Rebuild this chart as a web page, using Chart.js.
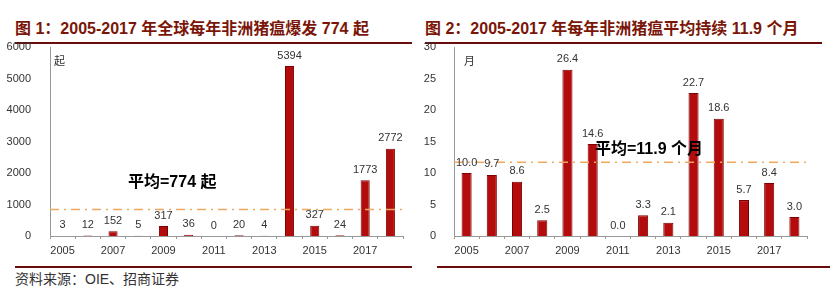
<!DOCTYPE html>
<html>
<head>
<meta charset="utf-8">
<script src="https://cdn.jsdelivr.net/npm/chart.js@4"></script>
<style>
  body { margin: 0; background: #fff; width: 830px; height: 294px; position: relative; overflow: hidden;
         font-family: "Liberation Sans", "Noto Sans CJK SC", sans-serif; }
  .title { position: absolute; top: 15px; font-size: 16px; font-weight: bold; color: #7a1608; white-space: nowrap;
           font-family: "Liberation Sans", "Noto Sans CJK SC", sans-serif; }
  .rule { position: absolute; height: 2px; background: #6a0c0c; }
  .src { position: absolute; left: 15px; top: 268px; font-size: 14px; color: #333;
         font-family: "Liberation Sans", "Noto Sans CJK SC", sans-serif; }
  canvas { position: absolute; }
</style>
</head>
<body>
<div class="title" style="left:15px">图 1：2005-2017 年全球每年非洲猪瘟爆发 774 起</div>
<div class="rule" style="left:15px; width:397px; top:42px"></div>
<div class="title" style="left:425px">图 2：2005-2017 年每年非洲猪瘟平均持续 11.9 个月</div>
<div class="rule" style="left:425px; width:397px; top:42px"></div>

<div style="position:absolute; left:0; top:40px; width:415px; height:222px"><canvas id="c1"></canvas></div>
<div style="position:absolute; left:415px; top:40px; width:415px; height:222px"><canvas id="c2"></canvas></div>

<div class="rule" style="left:15px; width:397px; top:266px"></div>
<div class="rule" style="left:437px; width:393px; top:266px"></div>
<div class="src">资料来源：OIE、招商证券</div>

<script>
const years = ['2005', '2006', '2007', '2008', '2009', '2010', '2011', '2012', '2013', '2014', '2015', '2016', '2017', '2018'];
const outbreaks = [3, 12, 152, 5, 317, 36, 0, 20, 4, 5394, 327, 24, 1773, 2772];
const durationMonths = [10.0, 9.7, 8.6, 2.5, 26.4, 14.6, 0.0, 3.3, 2.1, 22.7, 18.6, 5.7, 8.4, 3.0];
const outbreakAvgLine = 840;   // where the dashed line sits in the picture
const durationAvgLine = 11.7;
const outbreakTicks = [0, 1000, 2000, 3000, 4000, 5000, 6000];
const durationTicks = [0, 5, 10, 15, 20, 25, 30];

const barRed = '#b40c0c';
const font = '"Liberation Sans", "Noto Sans CJK SC", sans-serif';

// value labels, average line, unit and average text
const extras = {
  id: 'extras',
  afterDatasetsDraw(chart, args, opts) {
    const c = chart.ctx, area = chart.chartArea, y = chart.scales.y;
    c.save();
    // average line
    const ly = y.getPixelForValue(opts.avg);
    c.strokeStyle = '#f0a860';
    c.lineWidth = 1.5;
    c.setLineDash([9, 5, 2, 5]);
    c.beginPath();
    c.moveTo(area.left, ly);
    c.lineTo(area.right, ly);
    c.stroke();
    c.setLineDash([]);
    // values
    c.fillStyle = '#333';
    c.font = '11px ' + font;
    c.textAlign = 'center';
    c.textBaseline = 'bottom';
    chart.getDatasetMeta(0).data.forEach((bar, i) => {
      const v = chart.data.datasets[0].data[i];
      c.fillText(opts.decimals ? v.toFixed(opts.decimals) : String(v), bar.x, bar.y - 5);
    });
    // unit
    c.textAlign = 'left';
    c.textBaseline = 'middle';
    c.fillText(opts.unit, area.left + opts.unitDx, area.top + 15);
    // average text
    c.fillStyle = '#000';
    c.font = 'bold 16px ' + font;
    c.fillText(opts.avgText, opts.textX, opts.textY);
    c.restore();
  }
};

function makeChart(id, values, ticks, yWidth, yPad, padRight, barPct, ext) {
  return new Chart(document.getElementById(id), {
    type: 'bar',
    data: {
      labels: years,
      datasets: [{
        data: values,
        backgroundColor: barRed,
        borderColor: '#7c0000',
        borderWidth: 1,
        barPercentage: barPct,
        categoryPercentage: 1
      }]
    },
    options: {
      responsive: true,
      maintainAspectRatio: false,
      animation: false,
      layout: { padding: { top: 0, right: padRight } },
      plugins: { legend: { display: false }, tooltip: { enabled: false }, extras: ext },
      scales: {
        x: {
          grid: { display: true, drawOnChartArea: false, tickLength: 3, color: '#999' },
          border: { color: '#999' },
          ticks: {
            color: '#333', font: { size: 11, family: font }, maxRotation: 0, autoSkip: false, padding: 5,
            callback: (v, i) => (i % 2 === 0 ? years[i] : '')
          },
          afterFit: s => { s.height = 26; }
        },
        y: {
          min: ticks[0],
          max: ticks[ticks.length - 1],
          grid: { display: false },
          border: { color: '#999' },
          afterBuildTicks: s => { s.ticks = ticks.map(v => ({ value: v })); },
          ticks: { color: '#333', font: { size: 11, family: font }, padding: yPad, callback: v => String(v) },
          afterFit: s => { s.width = yWidth; s.paddingTop = 7; }
        }
      }
    },
    plugins: [extras]
  });
}

makeChart('c1', outbreaks, outbreakTicks, 50, 11, 12, 0.36,
  { avg: outbreakAvgLine, unit: '起', unitDx: 4, avgText: '平均=774 起', textX: 128, textY: 143 });
makeChart('c2', durationMonths, durationTicks, 39, 10, 23, 0.4,
  { avg: durationAvgLine, unit: '月', unitDx: 10, decimals: 1, avgText: '平均=11.9 个月', textX: 180, textY: 110 });
</script>
</body>
</html>
